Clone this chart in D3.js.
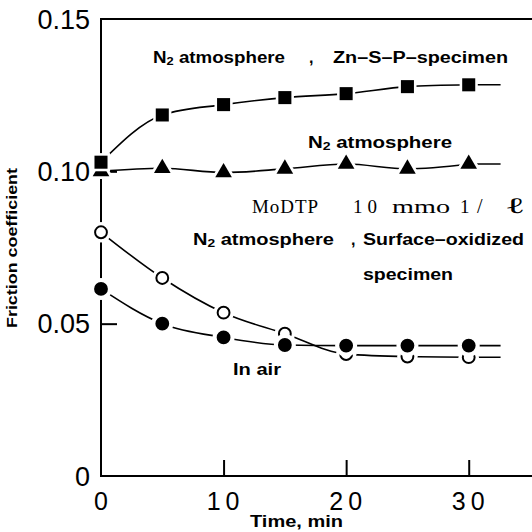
<!DOCTYPE html>
<html>
<head>
<meta charset="utf-8">
<script src="https://cdn.jsdelivr.net/npm/d3@7"></script>
<style>
  html, body { margin: 0; padding: 0; background: #fff; }
  svg { display: block; }
</style>
</head>
<body>
<div id="chart"></div>
<script>
// time axis, minutes
const times = [0, 5, 10, 15, 20, 25, 30];

// friction coefficient
const znSP     = [0.1030, 0.1185, 0.1219, 0.1242, 0.1255, 0.1278, 0.1284]; // N2, Zn-S-P specimen
const nitrogen = [0.1000, 0.1010, 0.0996, 0.1008, 0.1024, 0.1008, 0.1024]; // N2 atmosphere
const oxidized = [0.0800, 0.0650, 0.0536, 0.0467, 0.0400, 0.0392, 0.0390]; // N2, surface-oxidized
const inAir    = [0.0614, 0.0500, 0.0455, 0.0430, 0.0428, 0.0428, 0.0428]; // in air

const xTicks = [0, 10, 20, 30];
const yTicks = [0, 0.05, 0.10, 0.15];
const yTickLabels = ['0', '0.05', '0.10', '0.15'];
const lineEnd = 32.6; // the drawn curves run a bit past the last point

const width = 532, height = 532;

const x = d3.scaleLinear().domain([0, 35]).range([101, 530]);
const y = d3.scaleLinear().domain([0, 0.15]).range([476, 19]);

const svg = d3.select('#chart').append('svg')
    .attr('width', width)
    .attr('height', height)
    .style('font-family', '"Liberation Sans", Arial, sans-serif');

/* ---------- frame: left, top and bottom lines only ---------- */
const frame = svg.append('g').attr('stroke', '#000').attr('stroke-width', 2).attr('fill', 'none');
frame.append('line').attr('x1', x(0)).attr('x2', x(0)).attr('y1', y(0.15) - 1).attr('y2', y(0) + 1);
frame.append('line').attr('x1', x(0)).attr('x2', width).attr('y1', y(0.15)).attr('y2', y(0.15));
frame.append('line').attr('x1', x(0)).attr('x2', width).attr('y1', y(0)).attr('y2', y(0));

// ticks point inward
const xAxis = d3.axisTop(x).tickValues(xTicks.slice(1)).tickSize(16).tickFormat('');
svg.append('g').attr('transform', `translate(0,${y(0)})`).call(xAxis)
    .call(g => g.select('.domain').remove())
    .call(g => g.selectAll('line').attr('stroke-width', 2));

const yAxis = d3.axisRight(y).tickValues([0.05, 0.10]).tickSize(16).tickFormat('');
svg.append('g').attr('transform', `translate(${x(0)},0)`).call(yAxis)
    .call(g => g.select('.domain').remove())
    .call(g => g.selectAll('line').attr('stroke-width', 2));

// tick labels
svg.append('g').selectAll('text').data(yTicks).join('text')
    .attr('x', 90)
    .attr('y', d => y(d))
    .attr('dy', '0.36em')
    .attr('text-anchor', 'end')
    .style('font-size', '27px')
    .text((d, i) => yTickLabels[i]);

svg.append('g').selectAll('text').data(xTicks).join('text')
    .attr('x', d => x(d) + (d ? 2 : 0))
    .attr('y', 510)
    .attr('text-anchor', 'middle')
    .style('font-size', '25px')
    .style('letter-spacing', d => d ? '5px' : '0px')
    .text(d => d);

svg.append('text')
    .attr('x', 250).attr('y', 527)
    .attr('textLength', 93).attr('lengthAdjust', 'spacingAndGlyphs')
    .style('font-size', '16px').style('font-weight', 'bold')
    .text('Time, min');

svg.append('text')
    .attr('transform', 'translate(17,248) rotate(-90)')
    .attr('text-anchor', 'middle')
    .attr('textLength', 160).attr('lengthAdjust', 'spacingAndGlyphs')
    .style('font-size', '14px').style('font-weight', 'bold')
    .text('Friction coefficient');

/* ---------- series ---------- */
const series = [
  { name: 'znsp', values: znSP, shape: 'square' },
  { name: 'n2', values: nitrogen, shape: 'triangle' },
  { name: 'oxidized', values: oxidized, shape: 'open' },
  { name: 'air', values: inAir, shape: 'filled' }
];

const line = d3.line().x(d => x(d[0])).y(d => y(d[1])).curve(d3.curveMonotoneX);

const lines = svg.append('g').attr('fill', 'none').attr('stroke', '#000').attr('stroke-width', 1.6);
series.forEach(s => {
  const pts = times.map((t, i) => [t, s.values[i]]);
  lines.append('path').attr('d', line(pts));
  const last = pts[pts.length - 1];
  lines.append('line')
      .attr('x1', x(last[0])).attr('x2', x(lineEnd))
      .attr('y1', y(last[1])).attr('y2', y(last[1]));
});

const symbolOf = {
  square: d3.symbol().type(d3.symbolSquare).size(170),
  triangle: d3.symbol().type(d3.symbolTriangle).size(120),
  open: d3.symbol().type(d3.symbolCircle).size(110),
  filled: d3.symbol().type(d3.symbolCircle).size(150)
};
const haloOf = {
  square: d3.symbol().type(d3.symbolSquare).size(330),
  triangle: d3.symbol().type(d3.symbolTriangle).size(300),
  open: d3.symbol().type(d3.symbolCircle).size(330),
  filled: d3.symbol().type(d3.symbolCircle).size(380)
};

// lower curves drawn first so the later markers cut into them, as in the figure
['n2', 'znsp', 'oxidized', 'air'].forEach(name => {
  const s = series.find(d => d.name === name);
  const g = svg.append('g').attr('class', name);
  const pts = times.map((t, i) => [t, s.values[i]]);
  g.selectAll('path.halo').data(pts).join('path')
      .attr('class', 'halo')
      .attr('transform', d => `translate(${x(d[0])},${y(d[1])})`)
      .attr('d', haloOf[s.shape])
      .attr('fill', '#fff');
  g.selectAll('path.mark').data(pts).join('path')
      .attr('class', 'mark')
      .attr('transform', d => `translate(${x(d[0])},${y(d[1])})`)
      .attr('d', symbolOf[s.shape])
      .attr('fill', s.shape === 'open' ? '#fff' : '#000')
      .attr('stroke', '#000')
      .attr('stroke-width', s.shape === 'open' ? 2 : 0);
});

/* ---------- annotations ---------- */
function note(xPos, yPos, parts, len, size) {
  const t = svg.append('text')
      .attr('x', xPos).attr('y', yPos)
      .style('font-size', (size || 16) + 'px')
      .style('font-weight', 'bold');
  if (len) t.attr('textLength', len).attr('lengthAdjust', 'spacingAndGlyphs');
  parts.forEach(p => {
    const ts = t.append('tspan').text(p.text);
    if (p.sub) ts.style('font-size', '11px').attr('dy', 2);
    if (p.up) ts.attr('dy', -2);
  });
  return t;
}

const N2 = [{ text: 'N' }, { text: '2', sub: true }, { text: ' atmosphere', up: true }];

note(153, 63, N2, 132);
note(309, 63, [{ text: ',' }]);
note(333, 63, [{ text: 'Zn\u2013S\u2013P\u2013specimen' }], 175);

note(308, 148, N2, 144);

note(193, 245, N2, 141);
note(351, 245, [{ text: ',' }]);
note(363, 245, [{ text: 'Surface\u2013oxidized' }], 161);
note(363, 280, [{ text: 'specimen' }], 90);

note(233, 375, [{ text: 'In air' }], 48);

// spaced serif label, set piece by piece
const modtp = [
  { text: 'MoDTP', x: 252, len: 66, size: 19, adjust: 'spacing' },
  { text: '10', x: 353, len: 24, size: 19, adjust: 'spacing' },
  { text: 'mmo', x: 392, len: 58, size: 19, adjust: 'spacingAndGlyphs' },
  { text: '1', x: 460, len: 10, size: 19, adjust: 'spacing' },
  { text: '/', x: 477, len: 12, size: 20, adjust: 'spacing' },
  { text: '\u2113', x: 505, len: 20, size: 22, adjust: 'spacingAndGlyphs' }
];
svg.append('g')
    .style('font-family', '"Liberation Serif", "DejaVu Serif", serif')
  .selectAll('text').data(modtp).join('text')
    .attr('x', d => d.x).attr('y', 213)
    .style('font-size', d => d.size + 'px')
    .attr('textLength', d => d.len).attr('lengthAdjust', d => d.adjust)
    .text(d => d.text);
</script>
</body>
</html>
